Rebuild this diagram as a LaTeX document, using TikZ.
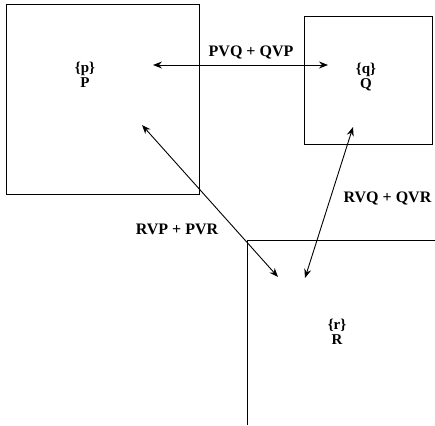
\documentclass[tikz,border=0pt]{standalone}
\usepackage{fontspec}
\setmainfont{Liberation Serif}
\usetikzlibrary{arrows.meta}
\tikzset{
  region/.style={draw, line width=1pt},
  lbl/.style={font=\fontsize{16}{17}\selectfont\bfseries, inner sep=0pt, align=center},
  regname/.style={font=\fontsize{15}{15}\selectfont\bfseries, inner sep=0pt, align=center},
  rel/.style={line width=0.9pt, {Stealth[length=9pt,width=7pt,inset=3pt]}-{Stealth[length=9pt,width=7pt,inset=3pt]}},
}
\begin{document}
\begin{tikzpicture}[x=1pt,y=-1pt]
\useasboundingbox (0,0) rectangle (435,425);
% regions
\draw[region] (6,5) rectangle (199,194);
\draw[region] (304,17) rectangle (432,144);
\coordinate (rc) at (247,240);
\coordinate (rh) at (435,240);
\coordinate (rv) at (247,425);
\draw[region] (rh) -- (rc) -- (rv);
% region names
\node[regname] (P) at (85,75) {\{p\}\\P};
\node[regname] (Q) at (366,77) {\{q\}\\Q};
\node[regname] (R) at (337,332) {\{r\}\\R};
% arrow end points
\coordinate (pq) at (153,65);
\coordinate (qp) at (328,65);
\coordinate (pr) at (142,125);
\coordinate (rp) at (278,277);
\coordinate (qr) at (353,127);
\coordinate (rq) at (305,278);
\draw[rel] (pq) -- (qp);
\draw[rel] (pr) -- (rp);
\draw[rel] (qr) -- (rq);
% relation labels
\node[lbl] (lpq) at (251,53) {PVQ + QVP};
\node[lbl] (lpr) at (177,229) {RVP + PVR};
\node[lbl] (lqr) at (387.5,198) {RVQ + QVR};
\end{tikzpicture}
\end{document}
